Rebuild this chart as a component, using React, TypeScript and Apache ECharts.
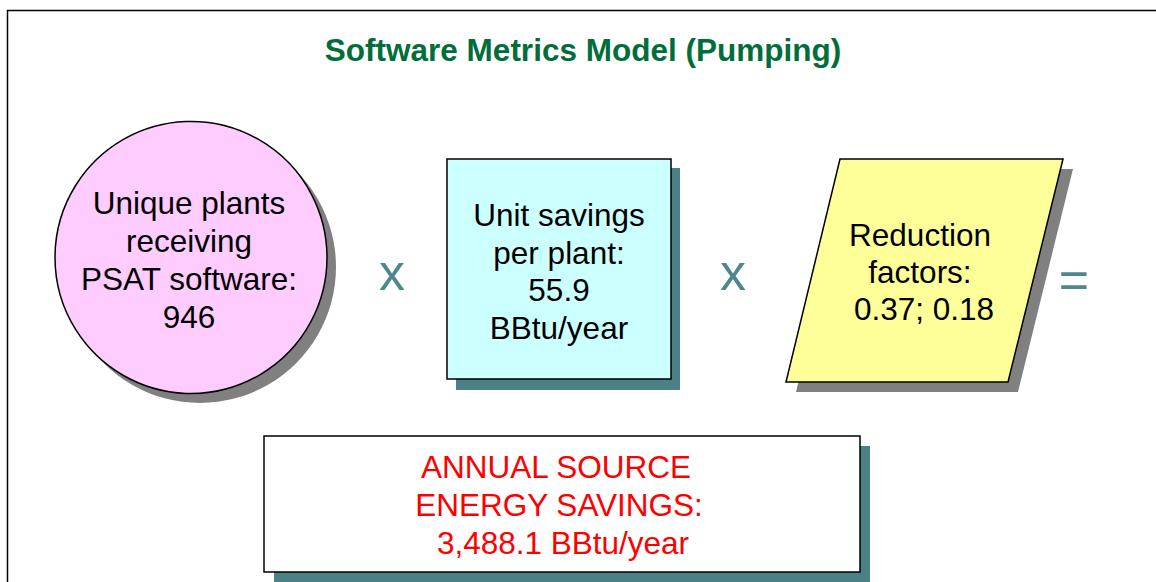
import React, { useEffect, useRef } from "react";
import * as echarts from "echarts";

const titleText = "Software Metrics Model (Pumping)";
const circleLines = ["Unique plants", "receiving", "PSAT software:", "946"];
const rectLines = ["Unit savings", "per plant:", "55.9", "BBtu/year"];
const paraLines = ["Reduction", "factors:", "0.37; 0.18"];
const resultLines = ["ANNUAL SOURCE", "ENERGY SAVINGS:", "3,488.1 BBtu/year"];
const operators = ["x", "x", "="];

const FONT = '"Liberation Sans", Arial, sans-serif';

export default function App() {
  const ref = useRef<HTMLDivElement>(null);
  useEffect(() => {
    if (!ref.current) return;
    const chart = echarts.init(ref.current, undefined, { renderer: "svg" });
    const lineTexts = (lines: string[], cx: number, y0: number, dy: number, color: string, dxs?: number[]) =>
      lines.map((t, i) => ({
        type: "text",
        z: 10,
        style: {
          text: t,
          x: cx + (dxs ? dxs[i] : 0),
          y: y0 + i * dy,
          textAlign: "center",
          textVerticalAlign: "middle",
          font: `31.5px ${FONT}`,
          fill: color,
        },
      }));
    const opPos = [
      [392, 272],
      [733, 272],
      [1074, 280],
    ];
    const graphic: any[] = [
      // frame
      {
        type: "rect",
        shape: { x: 7.5, y: 10.5, width: 1200, height: 700 },
        style: { fill: "#fff", stroke: "#000", lineWidth: 1.5 },
      },
      {
        type: "text",
        style: {
          text: titleText,
          x: 583,
          y: 50,
          textAlign: "center",
          textVerticalAlign: "middle",
          font: `bold 31.5px ${FONT}`,
          fill: "#006d3a",
        },
      },
      // circle
      { type: "circle", shape: { cx: 200, cy: 267, r: 136 }, style: { fill: "#808080" } },
      {
        type: "circle",
        shape: { cx: 191, cy: 257.5, r: 136 },
        style: { fill: "#ffccff", stroke: "#000", lineWidth: 1.5 },
      },
      // rect
      { type: "rect", shape: { x: 456, y: 168, width: 224, height: 222 }, style: { fill: "#4c8087" } },
      {
        type: "rect",
        shape: { x: 447, y: 159, width: 224, height: 220 },
        style: { fill: "#ccffff", stroke: "#000", lineWidth: 1.5 },
      },
      // parallelogram
      {
        type: "polygon",
        shape: { points: [[850, 169], [1073, 169], [1018, 392], [796, 392]] },
        style: { fill: "#808080" },
      },
      {
        type: "polygon",
        shape: { points: [[840, 159], [1063, 159], [1008, 382], [786, 382]] },
        style: { fill: "#ffff99", stroke: "#000", lineWidth: 1.5 },
      },
      // result box
      { type: "rect", shape: { x: 274, y: 446, width: 596, height: 136 }, style: { fill: "#4c8087" } },
      {
        type: "rect",
        shape: { x: 264, y: 436, width: 596, height: 136 },
        style: { fill: "#fff", stroke: "#000", lineWidth: 1.5 },
      },
      ...operators.map((op, i) => ({
        type: "text",
        style: {
          text: op,
          x: opPos[i][0],
          y: opPos[i][1],
          textAlign: "center",
          textVerticalAlign: "middle",
          font: `52px ${FONT}`,
          fill: "#4f878e",
        },
      })),
      ...lineTexts(circleLines, 189, 203, 38, "#000"),
      ...lineTexts(rectLines, 559, 215, 37.5, "#000"),
      ...lineTexts(paraLines, 920, 235, 37, "#000", [0, 0, 4]),
      ...lineTexts(resultLines, 558, 467, 38, "#ff0000", [-2, 1, 5]),
    ];
    chart.setOption({ animation: false, graphic });
    return () => chart.dispose();
  }, []);
  return (
    <div
      ref={ref}
      style={{ position: "fixed", left: 0, top: 0, width: 1156, height: 582, background: "#fff" }}
    />
  );
}
